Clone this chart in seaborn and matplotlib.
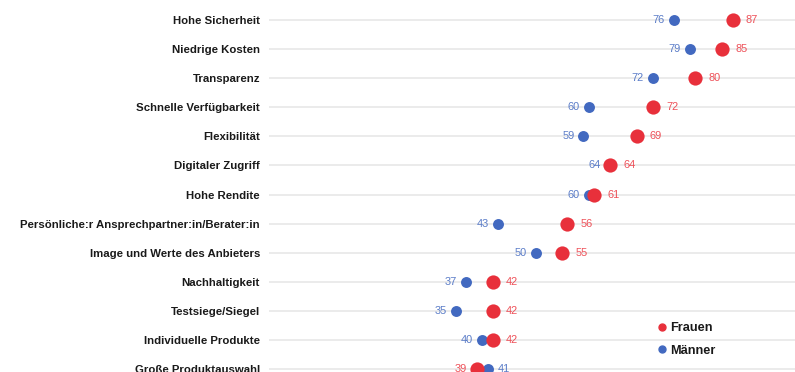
import matplotlib
matplotlib.use("Agg")
import matplotlib.pyplot as plt
from matplotlib.lines import Line2D
import pandas as pd
import seaborn as sns

# Criteria and shares (%) by gender
categories = [
    "Hohe Sicherheit",
    "Niedrige Kosten",
    "Transparenz",
    "Schnelle Verfügbarkeit",
    "Flexibilität",
    "Digitaler Zugriff",
    "Hohe Rendite",
    "Persönliche:r Ansprechpartner:in/Berater:in",
    "Image und Werte des Anbieters",
    "Nachhaltigkeit",
    "Testsiege/Siegel",
    "Individuelle Produkte",
    "Große Produktauswahl",
]
frauen = [87, 85, 80, 72, 69, 64, 61, 56, 55, 42, 42, 42, 39]
maenner = [76, 79, 72, 60, 59, 64, 60, 43, 50, 37, 35, 40, 41]
series_names = ["Frauen", "Männer"]

RED = "#E8303B"
BLUE = "#4269C0"
RED_TXT = "#EE5058"
BLUE_TXT = "#5A7CC8"

df = pd.DataFrame({"Kriterium": categories, "Frauen": frauen, "Männer": maenner})
df["pos"] = range(len(df))

sns.set_theme(style="white")
plt.rcParams["font.family"] = ["Liberation Sans", "DejaVu Sans"]

fig = plt.figure(figsize=(7.95, 3.72), dpi=100)
ax = fig.add_axes([269 / 795, 0, 1 - 269 / 795, 1])

sns.scatterplot(data=df, x="Männer", y="pos", color=BLUE, s=62,
                linewidth=0, ax=ax, zorder=3)
sns.scatterplot(data=df, x="Frauen", y="pos", color=RED, s=105,
                linewidth=0, ax=ax, zorder=4)

# Value labels: lower value on the left, higher value on the right
for i, (f, m) in enumerate(zip(frauen, maenner)):
    if f >= m:
        left, right = (m, BLUE_TXT), (f, RED_TXT)
    else:
        left, right = (f, RED_TXT), (m, BLUE_TXT)
    lv, lc = left
    rv, rc = right
    loff = 7.5 if lc == RED_TXT else 6.5
    roff = 9.5 if rc == RED_TXT else 7.5
    ax.annotate(str(lv), (lv, i), xytext=(-loff, 0), textcoords="offset points",
                ha="right", va="center", color=lc, fontsize=7.9)
    ax.annotate(str(rv), (rv, i), xytext=(roff, 0), textcoords="offset points",
                ha="left", va="center", color=rc, fontsize=7.9)

ax.set_xlim(0, (795 - 269) / 5.33)
ax.set_ylim(12 + 3 / 29.08, -20 / 29.08)
ax.set_yticks(df["pos"])
ax.set_yticklabels(categories, fontweight="bold", fontsize=8.2, color="#1a1a1a")
ax.tick_params(axis="y", length=0, pad=6.5)
ax.set_xticks([])
ax.set_xlabel("")
ax.set_ylabel("")
ax.grid(axis="y", color="#e6e6e6", linewidth=1.1)
ax.set_axisbelow(True)
for sp in ax.spines.values():
    sp.set_visible(False)

handles = [
    Line2D([], [], marker="o", linestyle="", color=RED, markersize=5),
    Line2D([], [], marker="o", linestyle="", color=BLUE, markersize=5),
]
leg = fig.legend(handles, series_names, loc="center left",
                 bbox_to_anchor=(649 / 795, 1 - 339.5 / 372), frameon=False,
                 handletextpad=0.15, handlelength=1.0, labelspacing=0.8,
                 borderpad=0, prop={"weight": "bold", "size": 9.2})
for t in leg.get_texts():
    t.set_color("#1a1a1a")

fig.savefig("out.png", dpi=100, facecolor="white")
